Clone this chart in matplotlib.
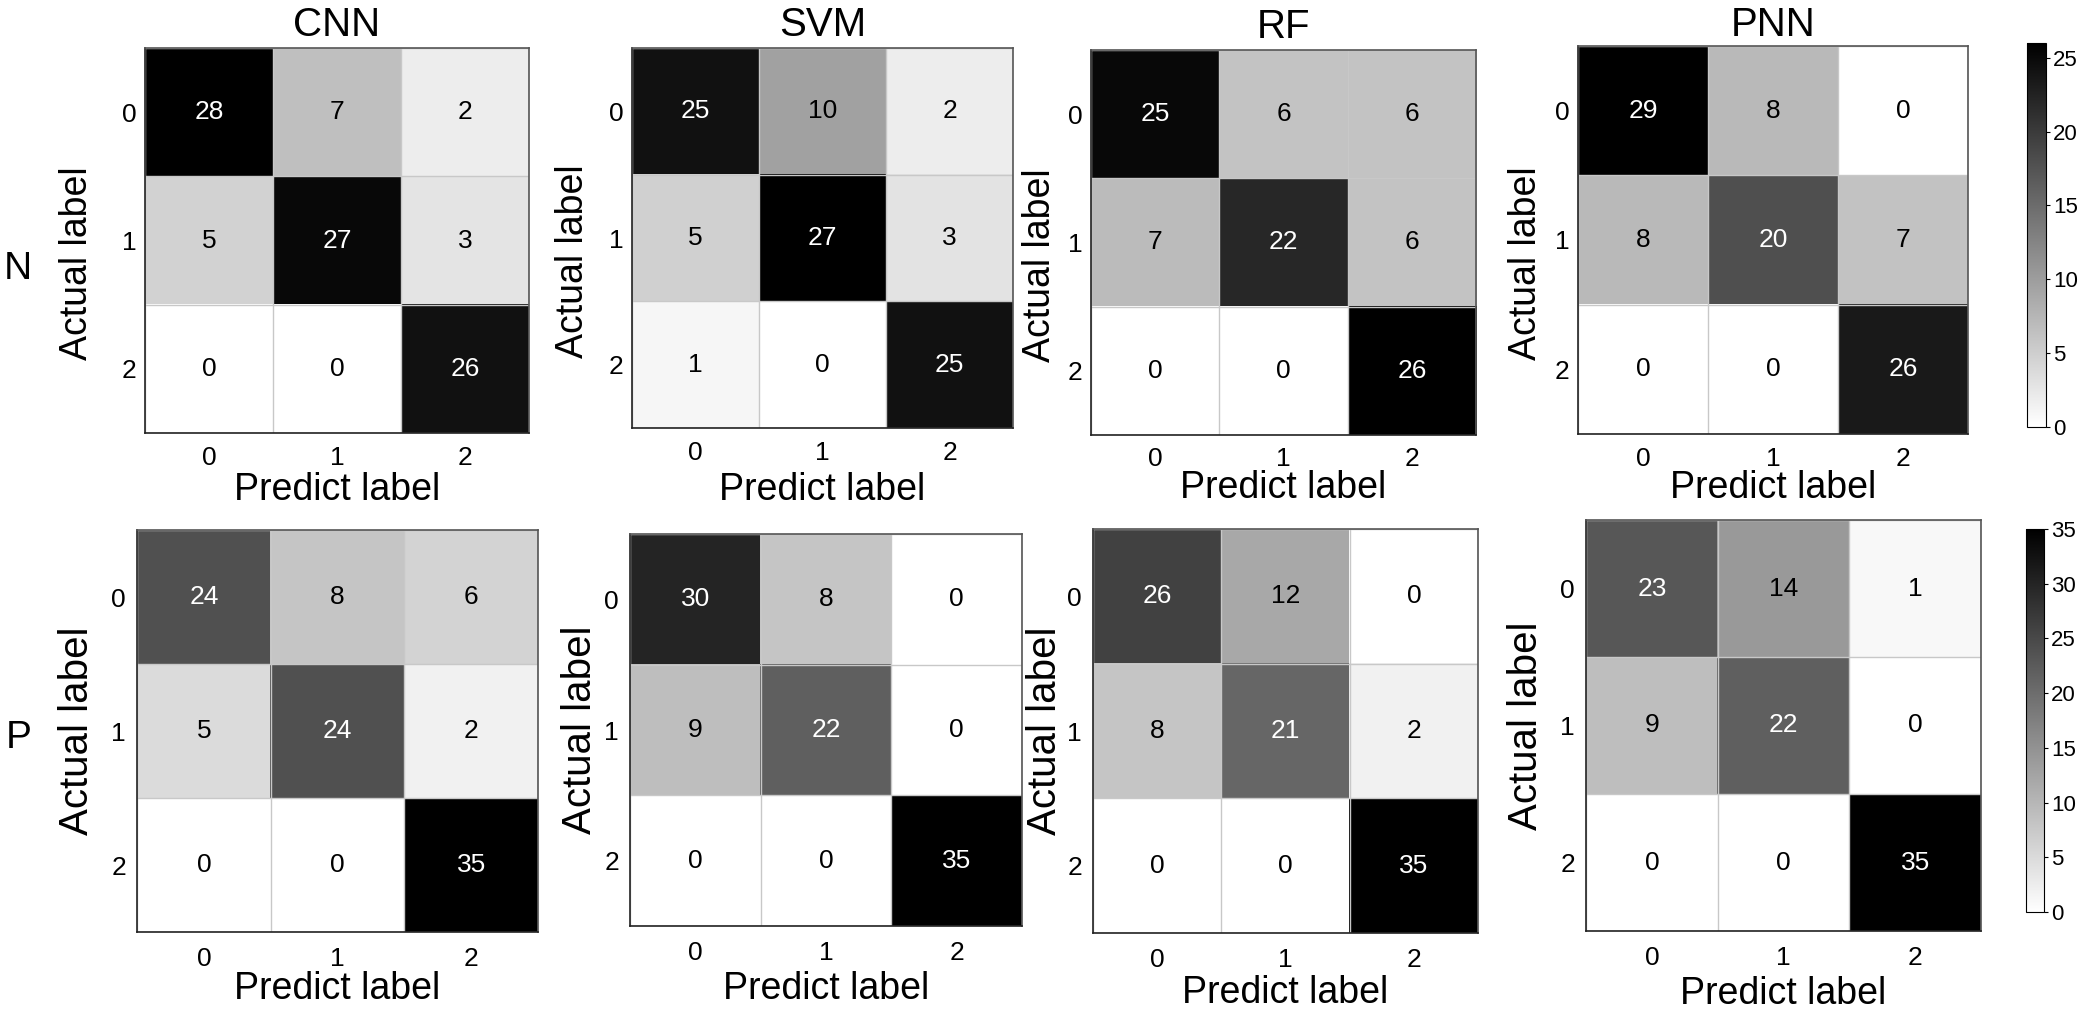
import numpy as np
import matplotlib
matplotlib.use("Agg")
import matplotlib.pyplot as plt
from matplotlib import cm, colors

plt.rcParams['font.family'] = ['Liberation Sans', 'DejaVu Sans']

models = ['CNN', 'SVM', 'RF', 'PNN']
row_names = ['N', 'P']
class_labels = ['0', '1', '2']

cnn_n = [[28, 7, 2], [5, 27, 3], [0, 0, 26]]
svm_n = [[25, 10, 2], [5, 27, 3], [1, 0, 25]]
rf_n = [[25, 6, 6], [7, 22, 6], [0, 0, 26]]
pnn_n = [[29, 8, 0], [8, 20, 7], [0, 0, 26]]

cnn_p = [[24, 8, 6], [5, 24, 2], [0, 0, 35]]
svm_p = [[30, 8, 0], [9, 22, 0], [0, 0, 35]]
rf_p = [[26, 12, 0], [8, 21, 2], [0, 0, 35]]
pnn_p = [[23, 14, 1], [9, 22, 0], [0, 0, 35]]

cbar_max = [26, 35]
cbar_ticks = [[0, 5, 10, 15, 20, 25], [0, 5, 10, 15, 20, 25, 30, 35]]

W, H = 2092, 1013
fig = plt.figure(figsize=(W / 100, H / 100), dpi=100)


def rect(x0, y0, x1, y1):
    return [x0 / W, 1 - y1 / H, (x1 - x0) / W, (y1 - y0) / H]


# pixel boxes of heatmaps
boxes = [
    [(145, 48, 529, 433), (632, 48, 1013, 428), (1091, 50, 1476, 435), (1578, 46, 1968, 434)],
    [(137, 530, 538, 932), (630, 534, 1022, 926), (1093, 529, 1478, 933), (1586, 520, 1981, 931)],
]
ylabel_x = [[77, 573, 1040, 1526], [77, 580, 1045, 1526]]
ylabel_yfrac = [0.44, 0.5]
xlabel_y = [[490, 490, 488, 488], [989, 989, 993, 994]]
title_base = [36, 36, 38, 36]
ylabel_size = [27, 29]
xtick_pad = [9, 11]
ytick_pad = [6, 8]
cbar_boxes = [(2027, 43, 2046, 427), (2026, 529, 2044, 912)]

data = [[cnn_n, svm_n, rf_n, pnn_n], [cnn_p, svm_p, rf_p, pnn_p]]

for r in range(2):
    for c in range(4):
        m = np.array(data[r][c])
        vmax = m.max()
        x0, y0, x1, y1 = boxes[r][c]
        ax = fig.add_axes(rect(*boxes[r][c]))
        ax.imshow(m, cmap='gray_r', vmin=0, vmax=vmax, aspect='auto',
                  interpolation='nearest')
        for i in range(3):
            for j in range(3):
                v = m[i, j]
                ax.text(j, i, str(v), ha='center', va='center', fontsize=19,
                        color='white' if v > vmax / 2 else 'black')
        ax.set_xticks(range(3))
        ax.set_yticks(range(3))
        ax.set_xticklabels(class_labels, fontsize=19)
        ax.set_yticklabels(class_labels, fontsize=19)
        ax.set_xticks(np.arange(-0.5, 3), minor=True)
        ax.set_yticks(np.arange(-0.5, 3), minor=True)
        ax.grid(which='minor', color='#c8c8c8', linewidth=1)
        ax.tick_params(which='both', length=0)
        ax.tick_params(axis='x', pad=xtick_pad[r])
        ax.tick_params(axis='y', pad=ytick_pad[r])
        for s in ax.spines.values():
            s.set_color('#555555')
            s.set_linewidth(1.2)
        ax.spines['bottom'].set_color('#222222')
        ax.spines['left'].set_color('#222222')

        ax.set_ylabel('Actual label', fontsize=ylabel_size[r], va='center')
        ax.yaxis.set_label_coords((ylabel_x[r][c] - x0) / (x1 - x0), ylabel_yfrac[r])
        ax.set_xlabel('Predict label', fontsize=27, va='center')
        ax.xaxis.set_label_coords(0.5, (y1 - xlabel_y[r][c]) / (y1 - y0))
        if r == 0:
            ax.set_title(models[c], fontsize=29, va='baseline', pad=0,
                         y=1 + (y0 - title_base[c]) / (y1 - y0))

    cax = fig.add_axes(rect(*cbar_boxes[r]))
    sm = cm.ScalarMappable(norm=colors.Normalize(0, cbar_max[r]), cmap='gray_r')
    cb = fig.colorbar(sm, cax=cax, ticks=cbar_ticks[r])
    cb.ax.tick_params(labelsize=16, length=3, width=0.8, pad=2)
    cb.outline.set_linewidth(0.8)

fig.text(18 / W, 1 - 269 / H, row_names[0], fontsize=28, ha='center', va='center')
fig.text(19 / W, 1 - 738 / H, row_names[1], fontsize=28, ha='center', va='center')

fig.savefig('out.png', dpi=100, facecolor='white')
